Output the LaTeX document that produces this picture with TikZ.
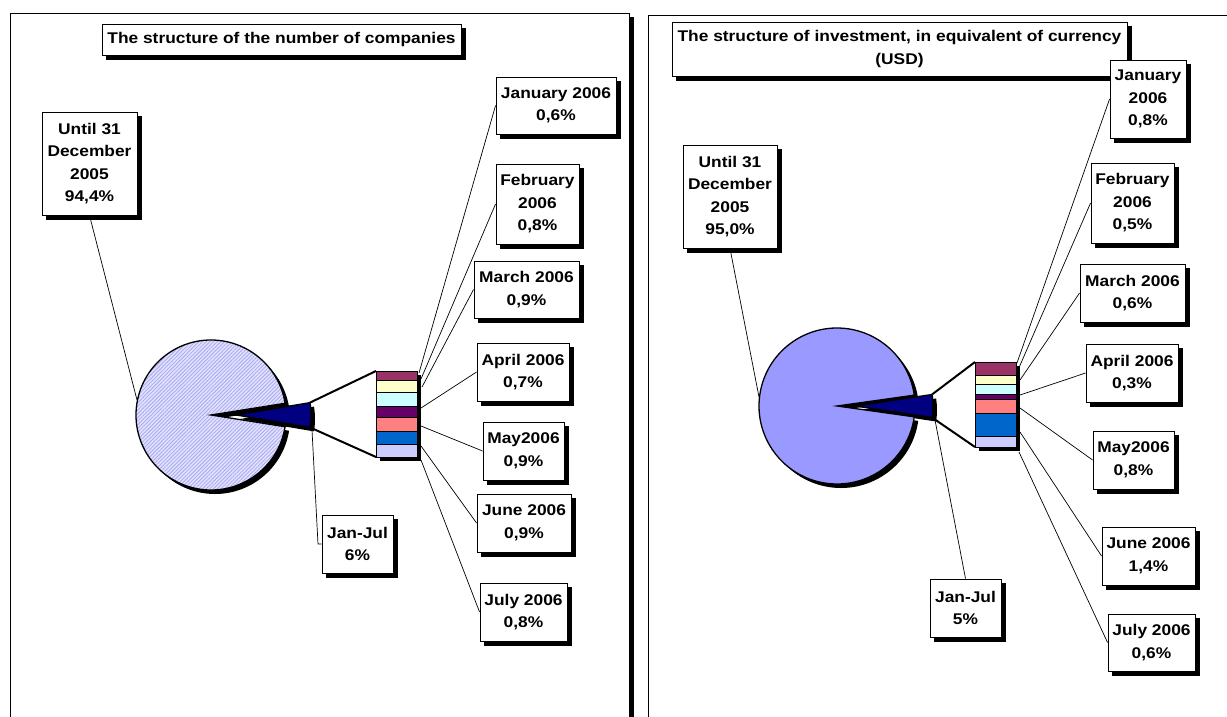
\documentclass[tikz,border=0pt]{standalone}
\usepackage{fontspec}
\newfontfamily\labfont[FakeStretch=1.12]{Liberation Sans}
\usetikzlibrary{patterns.meta}
\definecolor{cMaroon}{HTML}{993366}
\definecolor{cYellow}{HTML}{FFFFCC}
\definecolor{cCyan}{HTML}{CCFFFF}
\definecolor{cPurple}{HTML}{660066}
\definecolor{cSalmon}{HTML}{FF8080}
\definecolor{cBlue}{HTML}{0066CC}
\definecolor{cLav}{HTML}{CCCCFF}
\definecolor{cNavy}{HTML}{000080}
\definecolor{cPieR}{HTML}{9999FF}
\definecolor{cPieL}{HTML}{E2E2FF}
\definecolor{cHatch}{HTML}{A8A8F0}
\tikzset{
  lbl/.style={draw=black, fill=white, line width=0.9pt, align=center, inner sep=0pt,
    font=\labfont\bfseries\fontsize{15.5}{22.5}\selectfont},
  boxshadow/.style={draw=black, fill=black, line width=0.9pt, inner sep=0pt},
  leader/.style={draw=black, line width=0.7pt},
  zoomline/.style={draw=black, line width=2pt},
  seg/.style={draw=black, line width=0.8pt},
  frame/.style={draw=black, line width=0.8pt},
  pieline/.style={draw=black, line width=1.3pt},
}
% name, x, y, width, height, text
\newcommand\shlabel[6]{%
  \node[boxshadow, minimum width=#4pt, minimum height=#5pt] (#1-sh) at ({#2+4},{#3+4}) {};
  \node[lbl, minimum width=#4pt, minimum height=#5pt] (#1) at (#2,#3) {#6};}
\begin{document}
\begin{tikzpicture}[x=1pt,y=-1pt]
\useasboundingbox (0,0) rectangle (1227,717);
% panel frames
\draw[frame] (10,717) -- (10,13) -- (629,13) -- (629,717);
\fill[black] (629.4,17) rectangle (634,717);
\draw[frame] (648,717) -- (648,15) -- (1227,15);

% ---------------- left pie ----------------
\fill[black] (215,419) -- ++(9:75) arc[start angle=9,end angle=351,radius=75] -- cycle;
\fill[black] (240,419) -- ++(-9.5:75) arc[start angle=-9.5,end angle=9.5,radius=75] -- cycle;
\coordinate (lpc) at (211,415);
\coordinate (lsc) at (236,415);
\fill[cPieL] (lpc) -- ++(9:75) arc[start angle=9,end angle=351,radius=75] -- cycle;
\fill[pattern={Lines[angle=45,distance=2.6pt,line width=0.8pt]}, pattern color=cHatch]
  (lpc) -- ++(9:75) arc[start angle=9,end angle=351,radius=75] -- cycle;
\draw[pieline] (lpc) -- ++(9:75) arc[start angle=9,end angle=351,radius=75] -- cycle;
\filldraw[pieline, fill=cNavy] (lsc) -- ++(-9.5:75) arc[start angle=-9.5,end angle=9.5,radius=75] -- cycle;
\coordinate (lst) at (310,402.6);
\coordinate (lsb) at (310,427.4);

% left bar
\fill[black] (380,375) rectangle (421,461);
\filldraw[seg, fill=cMaroon] (376,371) rectangle (417,380.2);
\filldraw[seg, fill=cYellow] (376,380.2) rectangle (417,392.5);
\filldraw[seg, fill=cCyan] (376,392.5) rectangle (417,406.3);
\filldraw[seg, fill=cPurple] (376,406.3) rectangle (417,417.1);
\filldraw[seg, fill=cSalmon] (376,417.1) rectangle (417,430.9);
\filldraw[seg, fill=cBlue] (376,430.9) rectangle (417,444.7);
\filldraw[seg, fill=cLav] (376,444.7) rectangle (417,457);
\coordinate (lbt) at (376,371);
\coordinate (lbb) at (376,457);
\draw[zoomline] (lst) -- (lbt);
\draw[zoomline] (lsb) -- (lbb);

% left labels
\shlabel{ltitle}{281.5}{39.5}{359}{31}{The structure of the number of companies}
\shlabel{luntil}{89.5}{163.5}{95}{103}{Until 31\\December\\2005\\94,4\%}
\shlabel{ljan}{556}{105.5}{120}{57}{January 2006\\0,6\%}
\shlabel{lfeb}{537.5}{204}{83}{80}{February\\2006\\0,8\%}
\shlabel{lmar}{526.5}{289.5}{105}{57}{March 2006\\0,9\%}
\shlabel{lapr}{523}{372}{92}{58}{April 2006\\0,7\%}
\shlabel{lmay}{523.5}{451}{81}{58}{May2006\\0,9\%}
\shlabel{ljun}{524}{523}{94}{58}{June 2006\\0,9\%}
\shlabel{ljul}{523.5}{612}{87}{58}{July 2006\\0,8\%}
\shlabel{ljj}{357.5}{544}{71}{58}{Jan-Jul\\6\%}

% left leader endpoints
\coordinate (lpe) at (137,400);
\coordinate (lse) at (312,430);
\coordinate (lel) at (318,544);
\coordinate (lb1) at (419,373);
\coordinate (lb2) at (421,379);
\coordinate (lb3) at (422,387);
\coordinate (lb4) at (421,408);
\coordinate (lb5) at (421,426);
\coordinate (lb6) at (421,446);
\coordinate (lb7) at (421,460);
\draw[leader] (luntil.south) -- (lpe);
\draw[leader] (lse) -- (lel) -- (ljj.west);
\draw[leader] (ljan.west) -- (lb1);
\draw[leader] (lfeb.west) -- (lb2);
\draw[leader] (lmar.west) -- (lb3);
\draw[leader] (lapr.west) -- (lb4);
\draw[leader] (lmay.west) -- (lb5);
\draw[leader] (ljun.west) -- (lb6);
\draw[leader] (ljul.west) -- (lb7);

% ---------------- right pie ----------------
\fill[black] (841,410) -- ++(8:78) arc[start angle=8,end angle=352,radius=78] -- cycle;
\fill[black] (859,410) -- ++(-8.5:78) arc[start angle=-8.5,end angle=8.5,radius=78] -- cycle;
\coordinate (rpc) at (837,406);
\coordinate (rsc) at (855,406);
\filldraw[pieline, fill=cPieR] (rpc) -- ++(8:78) arc[start angle=8,end angle=352,radius=78] -- cycle;
\filldraw[pieline, fill=cNavy] (rsc) -- ++(-8.5:78) arc[start angle=-8.5,end angle=8.5,radius=78] -- cycle;
\coordinate (rst) at (932,394.5);
\coordinate (rsb) at (932,417.5);

% right bar
\fill[black] (979,366) rectangle (1020,451);
\filldraw[seg, fill=cMaroon] (975,362) rectangle (1016,375.6);
\filldraw[seg, fill=cYellow] (975,375.6) rectangle (1016,384.1);
\filldraw[seg, fill=cCyan] (975,384.1) rectangle (1016,394.3);
\filldraw[seg, fill=cPurple] (975,394.3) rectangle (1016,399.4);
\filldraw[seg, fill=cSalmon] (975,399.4) rectangle (1016,413);
\filldraw[seg, fill=cBlue] (975,413) rectangle (1016,436.8);
\filldraw[seg, fill=cLav] (975,436.8) rectangle (1016,447);
\coordinate (rbt) at (975,362);
\coordinate (rbb) at (975,447);
\draw[zoomline] (rst) -- (rbt);
\draw[zoomline] (rsb) -- (rbb);

% right labels
\shlabel{rtitle}{899.5}{49}{455}{54}{The structure of investment, in equivalent of currency\\(USD)}
\shlabel{runtil}{730}{196.5}{94}{103}{Until 31\\December\\2005\\95,0\%}
\shlabel{rjan}{1148}{99}{76}{78}{January\\2006\\0,8\%}
\shlabel{rfeb}{1132.5}{203}{83}{80}{February\\2006\\0,5\%}
\shlabel{rmar}{1132.5}{293}{105}{58}{March 2006\\0,6\%}
\shlabel{rapr}{1132}{373}{92}{58}{April 2006\\0,3\%}
\shlabel{rmay}{1133.5}{460}{81}{58}{May2006\\0,8\%}
\shlabel{rjun}{1148.5}{556}{93}{58}{June 2006\\1,4\%}
\shlabel{rjul}{1151.5}{642.5}{87}{57}{July 2006\\0,6\%}
\shlabel{rjj}{965.5}{608}{71}{58}{Jan-Jul\\5\%}

% right leader endpoints
\coordinate (rpe) at (759,397);
\coordinate (rse) at (935,420);
\coordinate (rb1) at (1017,363);
\coordinate (rb2) at (1018,370);
\coordinate (rb3) at (1020,380);
\coordinate (rb4) at (1020,395);
\coordinate (rb5) at (1020,408);
\coordinate (rb6) at (1020,432);
\coordinate (rb7) at (1019,452);
\draw[leader] (runtil.south) -- (rpe);
\draw[leader] (rjj.north) -- (rse);
\draw[leader] (rjan.west) -- (rb1);
\draw[leader] (rfeb.west) -- (rb2);
\draw[leader] (rmar.west) -- (rb3);
\draw[leader] (rapr.west) -- (rb4);
\draw[leader] (rmay.west) -- (rb5);
\draw[leader] (rjun.west) -- (rb6);
\draw[leader] (rjul.west) -- (rb7);
\end{tikzpicture}
\end{document}
